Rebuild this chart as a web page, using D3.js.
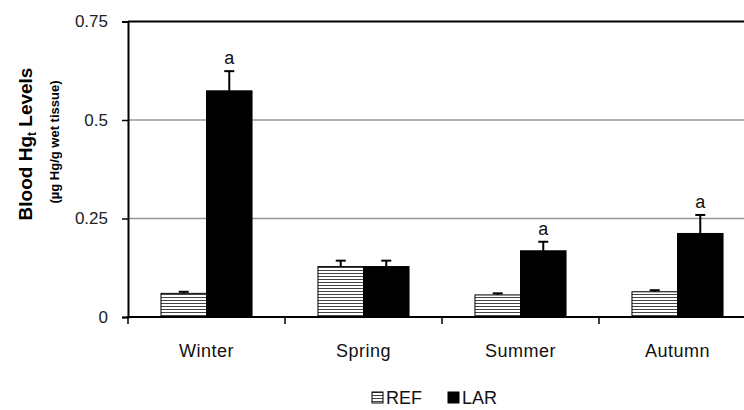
<!DOCTYPE html>
<html lang="en">
<head>
<meta charset="utf-8">
<title>Blood Hg levels</title>
<script src="https://d3js.org/d3.v7.min.js"></script>
<style>
  body { margin: 0; background: #fff; }
  text { font-family: "Liberation Sans", Arial, sans-serif; }
</style>
</head>
<body>
<script>
// data
var seasons = ["Winter", "Spring", "Summer", "Autumn"];
var groups = ["REF", "LAR"];
var refMean = [0.060, 0.128, 0.056, 0.064];
var refErr  = [0.004, 0.015, 0.004, 0.004];
var larMean = [0.574, 0.128, 0.168, 0.212];
var larErr  = [0.050, 0.015, 0.023, 0.047];
var larSig  = ["a", "", "a", "a"];
var yTicks = [0, 0.25, 0.5, 0.75];

var w = 744, h = 410;
var plotLeft = 128, plotRight = 756, plotTop = 21.5, plotBottom = 317;

var svg = d3.select("body").append("svg")
    .attr("width", w)
    .attr("height", h);

var defs = svg.append("defs");
var pat = defs.append("pattern")
    .attr("id", "stripes")
    .attr("patternUnits", "userSpaceOnUse")
    .attr("width", 6).attr("height", 3);
pat.append("rect").attr("width", 6).attr("height", 3).attr("fill", "#fff");
pat.append("rect").attr("y", 0).attr("width", 6).attr("height", 1).attr("fill", "#444");

var x = d3.scaleBand().domain(seasons).range([plotLeft, plotRight])
    .paddingInner(0.42).paddingOuter(0.21);
var xs = d3.scaleBand().domain(groups).range([0, x.bandwidth()]);
var y = d3.scaleLinear().domain([0, 0.75]).range([plotBottom, plotTop]);

// gridlines
svg.append("g").selectAll("line")
    .data([0.25, 0.5])
    .join("line")
    .attr("x1", plotLeft).attr("x2", plotRight)
    .attr("y1", d => y(d)).attr("y2", d => y(d))
    .attr("stroke", "#999").attr("stroke-width", 1.5);

// bars
var rows = seasons.map((s, i) => [
  {season: s, g: "REF", v: refMean[i], e: refErr[i], sig: ""},
  {season: s, g: "LAR", v: larMean[i], e: larErr[i], sig: larSig[i]}
]).flat();

var bar = svg.append("g").selectAll("g")
    .data(rows)
    .join("g")
    .attr("transform", d => `translate(${x(d.season) + xs(d.g)},0)`);

// error bars (upper only)
bar.append("line")
    .attr("x1", xs.bandwidth() / 2).attr("x2", xs.bandwidth() / 2)
    .attr("y1", d => y(d.v)).attr("y2", d => y(d.v + d.e))
    .attr("stroke", "#000").attr("stroke-width", 2);
bar.append("line")
    .attr("x1", xs.bandwidth() / 2 - 5).attr("x2", xs.bandwidth() / 2 + 5)
    .attr("y1", d => y(d.v + d.e)).attr("y2", d => y(d.v + d.e))
    .attr("stroke", "#000").attr("stroke-width", 2);

bar.append("rect")
    .attr("x", 0)
    .attr("width", xs.bandwidth())
    .attr("y", d => y(d.v))
    .attr("height", d => y(0) - y(d.v))
    .attr("fill", d => d.g === "REF" ? "url(#stripes)" : "#000")
    .attr("stroke", "#000").attr("stroke-width", 1);

bar.append("text")
    .attr("x", xs.bandwidth() / 2)
    .attr("y", d => y(d.v + d.e) - 7)
    .attr("text-anchor", "middle")
    .attr("font-size", 18)
    .attr("fill", "#111")
    .text(d => d.sig);

// top border of the plot area
svg.append("line").attr("x1", plotLeft).attr("x2", plotRight).attr("y1", plotTop).attr("y2", plotTop)
    .attr("stroke", "#000").attr("stroke-width", 2);

// y axis
var yAxis = svg.append("g")
    .attr("transform", `translate(${plotLeft},0)`)
    .call(d3.axisLeft(y).tickValues(yTicks).tickSize(6).tickPadding(14).tickFormat(d => String(d)));
yAxis.select(".domain").attr("stroke-width", 2);
yAxis.selectAll(".tick line").attr("stroke-width", 1.5);
yAxis.selectAll("text").attr("font-size", 17).attr("fill", "#222")
    .style("font-family", "'Liberation Sans', Arial, sans-serif");

// x axis
var xg = svg.append("g");
xg.append("line").attr("x1", plotLeft - 1).attr("x2", plotRight).attr("y1", plotBottom).attr("y2", plotBottom)
    .attr("stroke", "#000").attr("stroke-width", 2);
var gap = x.step() * x.paddingInner() / 2;
xg.selectAll(".xt")
    .data(seasons)
    .join("line")
    .attr("class", "xt")
    .attr("x1", d => x(d) - gap).attr("x2", d => x(d) - gap)
    .attr("y1", plotBottom).attr("y2", plotBottom + 7)
    .attr("stroke", "#000").attr("stroke-width", 1.5);
xg.selectAll(".xl")
    .data(seasons)
    .join("text")
    .attr("class", "xl")
    .attr("x", d => x(d) + x.bandwidth() / 2)
    .attr("y", 357)
    .attr("text-anchor", "middle")
    .attr("font-size", 18)
    .attr("letter-spacing", 0.5)
    .attr("fill", "#111")
    .text(d => d);

// y titles
var t1 = svg.append("text")
    .attr("transform", "translate(32,144) rotate(-90)")
    .attr("text-anchor", "middle")
    .attr("font-size", 19)
    .attr("font-weight", "bold");
t1.append("tspan").text("Blood Hg");
t1.append("tspan").attr("font-size", 12).attr("dy", 4).text("t");
t1.append("tspan").attr("dy", -4).text(" Levels");

svg.append("text")
    .attr("transform", "translate(59,142) rotate(-90)")
    .attr("text-anchor", "middle")
    .attr("font-size", 13)
    .attr("font-weight", "bold")
    .text("(µg Hg/g wet tissue)");

// legend
var lg = svg.append("g").attr("transform", "translate(372,392)");
var items = lg.selectAll("g")
    .data(groups)
    .join("g")
    .attr("transform", (d, i) => `translate(${i * 76},0)`);
items.append("rect")
    .attr("width", 11).attr("height", 11)
    .attr("fill", d => d === "REF" ? "url(#stripes)" : "#000")
    .attr("stroke", "#000");
items.append("text")
    .attr("x", 14).attr("y", 12)
    .attr("font-size", 18)
    .attr("fill", "#111")
    .text(d => d);
</script>
</body>
</html>
